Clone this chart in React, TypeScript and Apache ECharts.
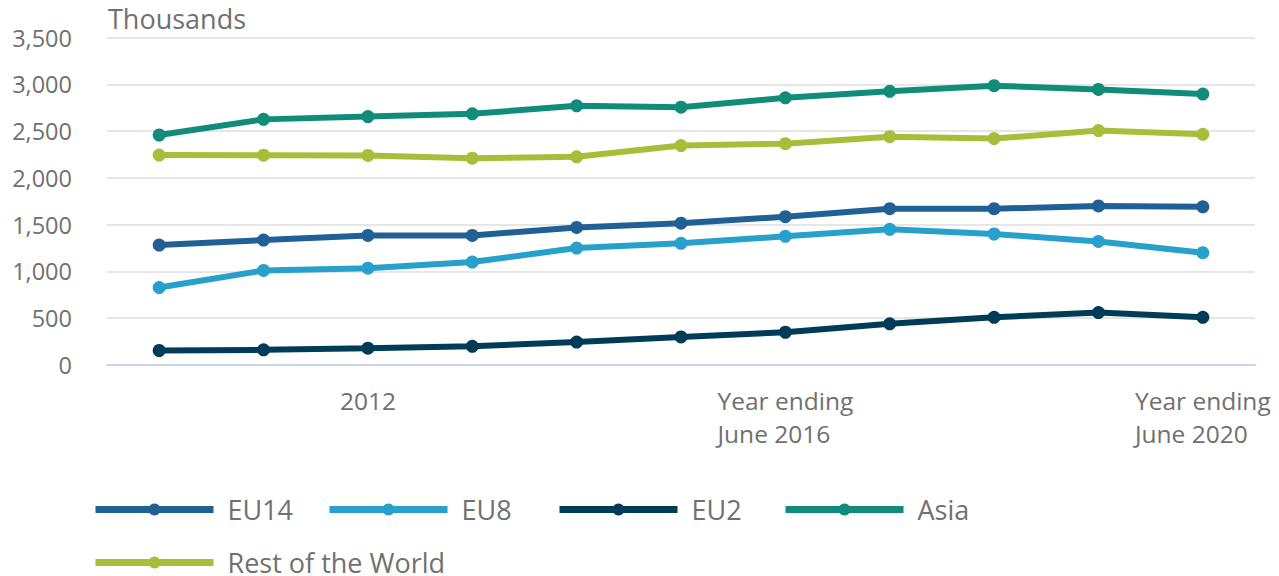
import React, { useEffect, useRef } from "react";
import * as echarts from "echarts";

const categories = [
  "2010",
  "2011",
  "2012",
  "2013",
  "2014",
  "2015",
  "Year ending\nJune 2016",
  "Year ending\nJune 2017",
  "Year ending\nJune 2018",
  "Year ending\nJune 2019",
  "Year ending\nJune 2020",
];
const labelledIndexes = [2, 6, 10];

const eu14 = [1282, 1335, 1385, 1385, 1470, 1515, 1585, 1670, 1670, 1700, 1690];
const eu8 = [828, 1010, 1035, 1100, 1250, 1300, 1375, 1450, 1400, 1320, 1200];
const eu2 = [155, 162, 180, 200, 245, 300, 350, 440, 510, 560, 510];
const asia = [2458, 2625, 2655, 2685, 2770, 2755, 2855, 2925, 2985, 2945, 2895];
const restOfWorld = [2244, 2242, 2240, 2210, 2225, 2345, 2365, 2440, 2420, 2505, 2465];

const seriesNames = ["EU14", "EU8", "EU2", "Asia", "Rest of the World"];
const seriesData = [eu14, eu8, eu2, asia, restOfWorld];
const colors = ["#206095", "#27a0cc", "#003c57", "#118c7b", "#a8bd3a"];

const yTicks = { min: 0, max: 3500, interval: 500 };

const FONT = "'Open Sans', 'Noto Sans', sans-serif";
const TEXT = "#707070";

export default function App() {
  const ref = useRef<HTMLDivElement>(null);
  useEffect(() => {
    if (!ref.current) return;
    const chart = echarts.init(ref.current, undefined, { renderer: "svg" });
    const legendPos = [
      { left: 92, top: 496 },
      { left: 326, top: 496 },
      { left: 556, top: 496 },
      { left: 782, top: 496 },
      { left: 92, top: 549 },
    ];
    chart.setOption({
      animation: false,
      textStyle: { fontFamily: FONT },
      title: {
        text: "Thousands",
        left: 103,
        top: 0,
        textStyle: { fontFamily: FONT, fontSize: 27, fontWeight: "normal", color: TEXT },
      },
      grid: { left: 107, right: 24, top: 37.5, bottom: 211, containLabel: false },
      legend: seriesNames.map((n, i) => ({
        data: [n],
        left: legendPos[i].left,
        top: legendPos[i].top,
        padding: 0,
        itemWidth: 118,
        itemHeight: 15,
        lineStyle: { width: 7 },
        textStyle: {
          fontFamily: FONT,
          fontSize: 27,
          color: TEXT,
          lineHeight: 24,
          padding: [0, 0, 0, 9],
        },
        selectedMode: false,
      })),
      xAxis: {
        type: "category",
        data: categories,
        boundaryGap: true,
        axisLine: { lineStyle: { color: "#c9d5e8", width: 2 } },
        axisTick: {
          alignWithLabel: true,
          length: 22,
          lineStyle: { color: "#c9d5e8", width: 2 },
          interval: (i: number) => labelledIndexes.includes(i),
        },
        axisLabel: {
          interval: (i: number) => labelledIndexes.includes(i),
          fontFamily: FONT,
          fontSize: 24.5,
          lineHeight: 33,
          color: TEXT,
          margin: 19,
          formatter: (v: string) =>
            v
              .split("\n")
              .map((l) => `{l|${l}}`)
              .join("\n"),
          rich: {
            l: {
              align: "left",
              fontFamily: FONT,
              fontSize: 24.5,
              lineHeight: 33,
              color: TEXT,
            },
          },
        },
      },
      yAxis: {
        type: "value",
        min: yTicks.min,
        max: yTicks.max,
        interval: yTicks.interval,
        axisLine: { show: false },
        axisTick: { show: false },
        splitLine: { lineStyle: { color: "#e6e6e6", width: 2 } },
        axisLabel: {
          fontFamily: FONT,
          fontSize: 23.5,
          color: TEXT,
          margin: 35,
          formatter: (v: number) => v.toLocaleString("en-GB"),
        },
      },
      series: seriesNames.map((n, i) => ({
        name: n,
        type: "line",
        data: seriesData[i],
        symbol: "circle",
        symbolSize: 13,
        color: colors[i],
        lineStyle: { width: 6, color: colors[i] },
        itemStyle: { color: colors[i] },
        z: 2,
      })),
    });
    return () => chart.dispose();
  }, []);
  return (
    <div
      ref={ref}
      style={{ position: "absolute", left: 0, top: 0, width: 1279, height: 576, background: "#fff" }}
    />
  );
}
